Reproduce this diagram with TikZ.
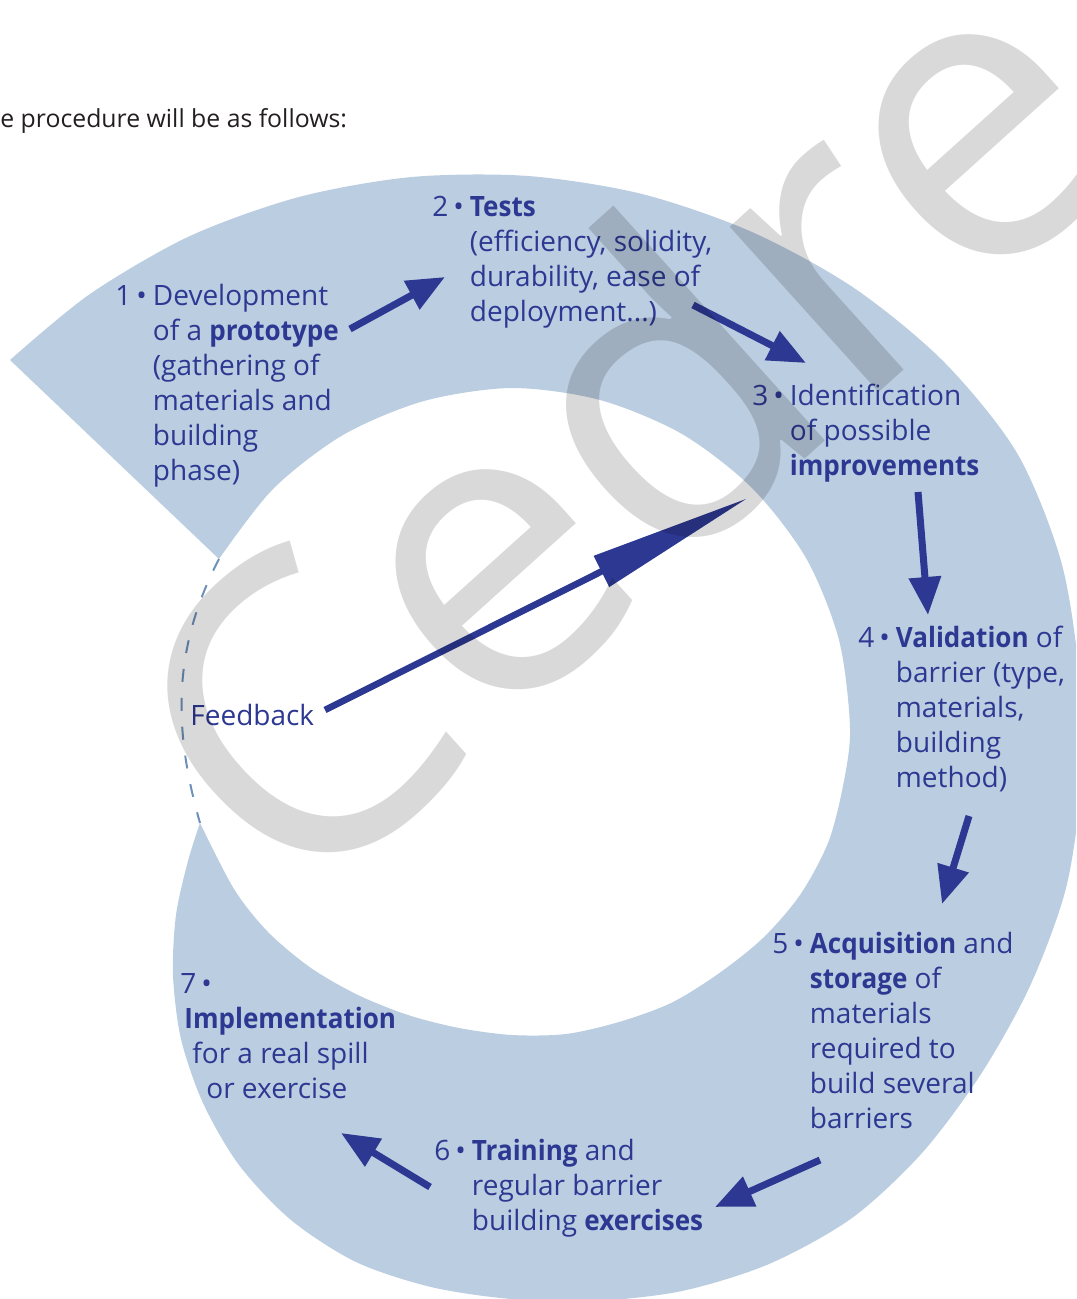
\documentclass[tikz,border=0pt]{standalone}
\usepackage{fontspec}
\usepackage{graphicx}
\setmainfont{Open Sans}
\usetikzlibrary{arrows.meta}
\definecolor{bandblue}{RGB}{187,205,224}
\definecolor{inkblue}{RGB}{44,56,145}
\definecolor{dashblue}{RGB}{110,145,185}
\definecolor{markgray}{RGB}{217,217,217}
\definecolor{introgray}{RGB}{35,31,32}
\newcommand{\hb}[1]{\scalebox{0.93}[1]{\textbf{#1}}}
\begin{document}
\begin{tikzpicture}[x=0.5pt,y=-0.5pt,
    steptext/.style={anchor=base west,inner sep=0pt,text=inkblue,font=\fontsize{14}{17.5}\selectfont},
    steparrow/.style={draw=inkblue,line width=3.5pt,-{Triangle[length=19pt,width=15.5pt]}},
    dashline/.style={draw=dashblue,line width=1pt,dash pattern=on 6.5pt off 8pt}]
    \useasboundingbox (0,0) rectangle (1076,1299);
    \clip (0,0) rectangle (1076,1299);
    % the spiral band
    \fill[bandblue] (10,360) -- plot[smooth] coordinates {(219,559) (273,489) (343,435) (424,401)
        (512,388) (600,400) (682,434) (752,488) (806,558) (839,640) (850,728) (843,786) (828,843)
        (800,895) (763,938) (718,974) (671,1003) (619,1022) (566,1034) (512,1035) (459,1028)
        (408,1015) (358,995) (311,968) (268,932) (234,889) (200,823)}
      -- plot[smooth] coordinates {(200,823) (188,861) (176,915) (173,975) (181,1039) (203,1103)
        (239,1165) (291,1220) (356,1262) (431,1287) (511,1299) (595,1301) (682,1291) (769,1264)
        (852,1218) (922,1153) (981,1074) (1030,986) (1066,888) (1081,783) (1079,673) (1061,561)
        (1017,453) (944,362) (854,288) (752,232) (642,194) (528,176) (412,177) (299,197)
        (190,236) (90,294) (10,360)}
      -- cycle;
    \coordinate (cut) at (219,559);
    \coordinate (tip) at (200,823);
    \draw[dashline] (cut) .. controls (170,653) and (175,735) .. (tip);
    % texts
    \node[anchor=base west,inner sep=0pt,text=introgray,font=\fontsize{12.4}{15}\selectfont]
      (intro) at (0,128) {e procedure will be as follows:};
    \node[steptext] (s1) at (115,306) {\begin{tabular}[t]{@{}l@{}l@{}}
      1\kern2.5pt•\kern3pt & Development\\ & of a \hb{prototype}\\ & (gathering of\\
      & materials and\\ & building\\ & phase)\end{tabular}};
    \node[steptext] (s2) at (432,217) {\begin{tabular}[t]{@{}l@{}l@{}}
      2\kern2.5pt•\kern3pt & \hb{Tests}\\ & (efficiency, solidity,\\ & durability, ease of\\
      & deployment...)\end{tabular}};
    \node[steptext] (s3) at (752,405) {\begin{tabular}[t]{@{}l@{}l@{}}
      3\kern2.5pt•\kern3pt & Identification\\ & of possible\\ & \hb{improvements}\end{tabular}};
    \node[steptext] (s4) at (858,647) {\begin{tabular}[t]{@{}l@{}l@{}}
      4\kern2.5pt•\kern3pt & \hb{Validation} of\\ & barrier (type,\\ & materials,\\
      & building\\ & method)\end{tabular}};
    \node[steptext] (s5) at (772,953) {\begin{tabular}[t]{@{}l@{}l@{}}
      5\kern2.5pt•\kern3pt & \hb{Acquisition} and\\ & \hb{storage} of\\ & materials\\
      & required to\\ & build several\\ & barriers\end{tabular}};
    \node[steptext] (s6) at (434,1160) {\begin{tabular}[t]{@{}l@{}l@{}}
      6\kern2.5pt•\kern3pt & \hb{Training} and\\ & regular barrier\\
      & building \hb{exercises}\end{tabular}};
    \node[steptext] (s7) at (180,993) {\begin{tabular}[t]{@{}l@{}}
      7\kern2.5pt•\\ \kern2pt\hb{Implementation}\\ \kern6pt for a real spill\\
      \kern13pt or exercise\end{tabular}};
    \node[steptext] (fb) at (190,725) {Feedback};
    % arrows
    \coordinate (from1) at (350,329);  \coordinate (to1) at (445,277);
    \coordinate (from2) at (693,305);  \coordinate (to2) at (806,363);
    \coordinate (from3) at (918,492);  \coordinate (to3) at (928,615);
    \coordinate (from4) at (969,816);  \coordinate (to4) at (942,904);
    \coordinate (from5) at (820,1160); \coordinate (to5) at (715,1207);
    \coordinate (from6) at (430,1187); \coordinate (to6) at (341,1133);
    \foreach \i in {1,...,6}
      {\draw[steparrow] (from\i) -- (to\i);}
    \coordinate (fbfrom) at (325,710); \coordinate (fbto) at (748,498);
    \draw[draw=inkblue,line width=3.3pt,-{Triangle[length=82pt,width=16.5pt]}] (fbfrom) -- (fbto);
    % watermark
    \begin{scope}[blend mode=multiply]
      \node[anchor=base,inner sep=0pt,text=markgray,rotate=42,font=\fontsize{208}{208}\selectfont]
        (mark) at (720,536) {Cedre};
    \end{scope}
\end{tikzpicture}
\end{document}
